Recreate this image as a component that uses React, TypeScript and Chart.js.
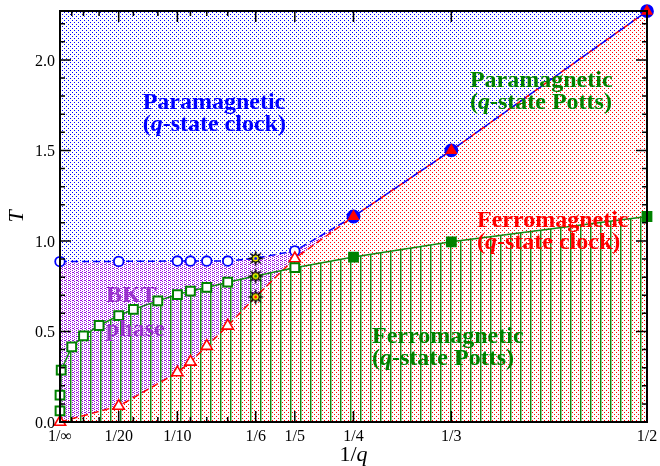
import React, { useEffect, useRef } from 'react';
import { Chart, registerables } from 'chart.js';

Chart.register(...registerables);

// Clock model: upper (T2) and lower (T1) transition temperatures vs 1/q
const clockInvQ = [0, 1 / 20, 1 / 10, 1 / 9, 1 / 8, 1 / 7, 1 / 6, 1 / 5, 1 / 4, 1 / 3, 1 / 2];
const clockUpperT = [0.886, 0.887, 0.889, 0.889, 0.889, 0.889, 0.904, 0.945, 1.135, 1.5, 2.269];
const clockLowerT = [0, 0.088, 0.273, 0.332, 0.419, 0.531, 0.691, 0.903, 1.135, 1.5, 2.269];

// Potts model: transition temperature vs 1/q
const pottsInvQ = [1e-14, 1e-6, 1 / 1000, 1 / 100, 1 / 50, 1 / 30, 1 / 20, 1 / 16, 1 / 12, 1 / 10, 1 / 9, 1 / 8, 1 / 7, 1 / 6, 1 / 5, 1 / 4, 1 / 3, 1 / 2];
const pottsT = [0.061, 0.148, 0.286, 0.415, 0.476, 0.533, 0.588, 0.622, 0.669, 0.704, 0.723, 0.743, 0.772, 0.806, 0.852, 0.911, 0.995, 1.135];

// q = 6 points are drawn as stars; q <= 4 values are exact (filled symbols)
const starInvQ = 1 / 6;
const exactFromInvQ = 1 / 4;

// Axis ticks
const xMajorTicks = [0, 1 / 20, 1 / 10, 1 / 6, 1 / 5, 1 / 4, 1 / 3, 1 / 2];
const xTickLabels = ['1/∞', '1/20', '1/10', '1/6', '1/5', '1/4', '1/3', '1/2'];
const xMinorTicks = [1 / 100, 1 / 50, 1 / 30, 1 / 16, 1 / 12, 1 / 9, 1 / 8, 1 / 7];
const yMajorTicks = [0, 0.5, 1.0, 1.5, 2.0];
const yTickLabels = ['0.0', '0.5', '1.0', '1.5', '2.0'];
const yMinorTicks = [0.1, 0.2, 0.3, 0.4, 0.6, 0.7, 0.8, 0.9, 1.1, 1.2, 1.3, 1.4, 1.6, 1.7, 1.8, 1.9, 2.1, 2.2];

type Seg = [string, boolean];
type PhaseLabel = { lines: Seg[][]; color: string; invQ: number; T: number; gap: number };

// Phase names, anchored (left, first baseline) in data coordinates
const phaseLabels: PhaseLabel[] = [
  { lines: [[['Paramagnetic', false]], [['(', false], ['q', true], ['-state clock)', false]]], color: '#0000ff', invQ: 0.0704, T: 1.726, gap: 22 },
  { lines: [[['Paramagnetic', false]], [['(', false], ['q', true], ['-state Potts)', false]]], color: '#008200', invQ: 0.3492, T: 1.848, gap: 22 },
  { lines: [[['Ferromagnetic', false]], [['(', false], ['q', true], ['-state clock)', false]]], color: '#ff0000', invQ: 0.3552, T: 1.079, gap: 22 },
  { lines: [[['Ferromagnetic', false]], [['(', false], ['q', true], ['-state Potts)', false]]], color: '#008200', invQ: 0.2658, T: 0.435, gap: 22 },
  { lines: [[['BKT', false]], [['phase', false]]], color: '#9932cc', invQ: 0.0392, T: 0.664, gap: 34 },
];

const SERIF = '"Liberation Serif", "Times New Roman", serif';

function pts(xs: number[], ys: number[]) {
  return xs.map((x, i) => ({ x, y: ys[i] }));
}

function makeTile(w: number, h: number, paint: (g: CanvasRenderingContext2D) => void) {
  const c = document.createElement('canvas');
  c.width = w;
  c.height = h;
  const g = c.getContext('2d')!;
  paint(g);
  return c;
}

function dotTile(color: string, w: number, h: number, dots: [number, number][]) {
  return makeTile(w, h, (g) => {
    g.fillStyle = '#ffffff';
    g.fillRect(0, 0, w, h);
    g.fillStyle = color;
    dots.forEach(([x, y]) => g.fillRect(x, y, 1, 1));
  });
}

function starSymbol(center: string) {
  const s = 19;
  return makeTile(s, s, (g) => {
    const c = s / 2;
    g.beginPath();
    for (let i = 0; i < 16; i++) {
      const r = i % 2 === 0 ? 8.5 : 3.6;
      const a = (i * Math.PI) / 8 - Math.PI / 2;
      const px = c + r * Math.cos(a);
      const py = c + r * Math.sin(a);
      if (i === 0) g.moveTo(px, py);
      else g.lineTo(px, py);
    }
    g.closePath();
    g.fillStyle = '#000000';
    g.fill();
    g.beginPath();
    g.arc(c, c, 3.6, 0, Math.PI * 2);
    g.fillStyle = '#ffff00';
    g.fill();
    g.lineWidth = 1;
    g.strokeStyle = '#000000';
    g.stroke();
    g.beginPath();
    g.arc(c, c, 1.5, 0, Math.PI * 2);
    g.fillStyle = center;
    g.fill();
  });
}

function drawSegs(ctx: CanvasRenderingContext2D, segs: Seg[], x: number, y: number, size: number, bold: boolean) {
  let cx = x;
  segs.forEach(([text, italic]) => {
    ctx.font = `${italic ? 'italic ' : ''}${bold ? 'bold ' : ''}${size}px ${SERIF}`;
    ctx.fillText(text, cx, y);
    cx += ctx.measureText(text).width;
  });
  return cx - x;
}

function segsWidth(ctx: CanvasRenderingContext2D, segs: Seg[], size: number, bold: boolean) {
  let w = 0;
  segs.forEach(([text, italic]) => {
    ctx.font = `${italic ? 'italic ' : ''}${bold ? 'bold ' : ''}${size}px ${SERIF}`;
    w += ctx.measureText(text).width;
  });
  return w;
}

const frameAndLabels = {
  id: 'frameAndLabels',
  afterDraw(chart: any) {
    const { ctx, chartArea } = chart;
    const xs = chart.scales.x;
    const ys = chart.scales.y;
    const { left, right, top, bottom } = chartArea;
    ctx.save();

    // phase names
    ctx.textAlign = 'left';
    ctx.textBaseline = 'alphabetic';
    phaseLabels.forEach((lab) => {
      ctx.fillStyle = lab.color;
      const x0 = xs.getPixelForValue(lab.invQ);
      const y0 = ys.getPixelForValue(lab.T);
      lab.lines.forEach((segs, i) => drawSegs(ctx, segs, x0, y0 + i * lab.gap, 24, true));
    });

    // frame
    ctx.strokeStyle = '#000000';
    ctx.lineWidth = 2;
    ctx.strokeRect(left, top, right - left, bottom - top);

    // inward ticks on all four sides
    ctx.lineWidth = 1.5;
    ctx.beginPath();
    const xTick = (v: number, len: number) => {
      const p = xs.getPixelForValue(v);
      ctx.moveTo(p, bottom);
      ctx.lineTo(p, bottom - len);
      ctx.moveTo(p, top);
      ctx.lineTo(p, top + len);
    };
    const yTick = (v: number, len: number) => {
      const p = ys.getPixelForValue(v);
      ctx.moveTo(left, p);
      ctx.lineTo(left + len, p);
      ctx.moveTo(right, p);
      ctx.lineTo(right - len, p);
    };
    xMajorTicks.forEach((v) => xTick(v, 11));
    xMinorTicks.forEach((v) => xTick(v, 5));
    yMajorTicks.forEach((v) => yTick(v, 11));
    yMinorTicks.forEach((v) => yTick(v, 5));
    ctx.stroke();

    // tick labels
    ctx.fillStyle = '#000000';
    ctx.font = `16px ${SERIF}`;
    ctx.textAlign = 'center';
    ctx.textBaseline = 'alphabetic';
    xMajorTicks.forEach((v, i) => ctx.fillText(xTickLabels[i], xs.getPixelForValue(v), bottom + 19));
    ctx.textAlign = 'right';
    yMajorTicks.forEach((v, i) => ctx.fillText(yTickLabels[i], left - 5, ys.getPixelForValue(v) + 6));

    // axis titles
    const xTitle: Seg[] = [['1/', false], ['q', true]];
    const w = segsWidth(ctx, xTitle, 22, false);
    ctx.textAlign = 'left';
    drawSegs(ctx, xTitle, (left + right) / 2 - w / 2, bottom + 39, 22, false);

    ctx.translate(17, (top + bottom) / 2);
    ctx.rotate(-Math.PI / 2);
    ctx.textAlign = 'center';
    ctx.textBaseline = 'middle';
    ctx.font = `italic 22px ${SERIF}`;
    ctx.fillText('T', 0, 0);
    ctx.restore();
  },
};

export default function App() {
  const ref = useRef<HTMLCanvasElement>(null);

  useEffect(() => {
    const canvas = ref.current!;
    const ctx = canvas.getContext('2d')!;

    const pat = (tile: HTMLCanvasElement) => ctx.createPattern(tile, 'repeat')!;
    const paraFill = pat(dotTile('#0000ff', 4, 4, [[0, 0], [2, 2]]));
    const bktFill = pat(dotTile('#9a10e0', 4, 4, [[0, 0], [2, 1], [0, 2], [2, 3], [1, 0]]));
    const ferroFill = pat(dotTile('#ff0000', 4, 4, [[0, 0], [2, 2]]));
    const pottsHatch = pat(
      makeTile(10, 2, (g) => {
        g.fillStyle = '#118811';
        g.fillRect(0, 0, 1, 2);
        g.fillStyle = 'rgba(17,136,17,0.45)';
        g.fillRect(1, 0, 1, 2);
      })
    );

    const starUpper = starSymbol('#0000ff');
    const starLower = starSymbol('#ff0000');
    const starPotts = starSymbol('#008200');

    const upper = pts(clockInvQ, clockUpperT);
    const lower = pts(clockInvQ, clockLowerT);
    const potts = pts(pottsInvQ, pottsT);

    const isStar = (xsArr: number[]) => (c: any) => xsArr[c.dataIndex] === starInvQ;
    const isExact = (xsArr: number[]) => (c: any) => xsArr[c.dataIndex] >= exactFromInvQ - 1e-9;

    const fillBase = { borderWidth: 0, pointRadius: 0, tension: 0 };
    const markerBase = { showLine: false, borderWidth: 0, clip: false };

    const chart = new Chart(canvas, {
      type: 'line',
      data: {
        datasets: [
          // 0: paramagnetic (above upper clock line)
          { ...fillBase, data: upper, fill: 'end', backgroundColor: paraFill, order: 100 },
          // 1: BKT phase (between the two clock lines)
          { ...fillBase, data: upper, fill: 2, backgroundColor: bktFill, order: 99 },
          // 2: clock ferromagnetic (below lower clock line)
          { ...fillBase, data: lower, fill: 'origin', backgroundColor: ferroFill, order: 98 },
          // 3: Potts ferromagnetic (below Potts line)
          { ...fillBase, data: potts, fill: 'origin', backgroundColor: pottsHatch, order: 97 },
          // transition lines
          { data: lower, fill: false, borderColor: '#ff0000', borderWidth: 1.5, borderDash: [7, 4], pointRadius: 0, order: 50 },
          { data: upper, fill: false, borderColor: '#0000ff', borderWidth: 1.5, borderDash: [7, 4], pointRadius: 0, order: 49 },
          { data: potts, fill: false, borderColor: '#118811', borderWidth: 1.5, pointRadius: 0, order: 48 },
          // symbols
          {
            ...markerBase,
            data: upper,
            order: 20,
            pointStyle: (c: any) => (isStar(clockInvQ)(c) ? starUpper : 'circle'),
            pointRadius: (c: any) => (isExact(clockInvQ)(c) ? 6 : 4.8),
            pointBackgroundColor: (c: any) => (isExact(clockInvQ)(c) ? '#0000ff' : '#ffffff'),
            pointBorderColor: '#0000ff',
            pointBorderWidth: 1.8,
          },
          {
            ...markerBase,
            data: lower,
            order: 19,
            pointStyle: (c: any) => (isStar(clockInvQ)(c) ? starLower : 'triangle'),
            pointRadius: (c: any) => (isExact(clockInvQ)(c) ? 5.4 : 6.5),
            pointBackgroundColor: (c: any) => (isExact(clockInvQ)(c) ? '#ff0000' : '#ffffff'),
            pointBorderColor: '#ff0000',
            pointBorderWidth: 1.6,
          },
          {
            ...markerBase,
            data: potts,
            order: 18,
            pointStyle: (c: any) => (isStar(pottsInvQ)(c) ? starPotts : 'rect'),
            pointRadius: 6.2,
            pointBackgroundColor: (c: any) => (isExact(pottsInvQ)(c) ? '#008200' : '#ffffff'),
            pointBorderColor: '#008200',
            pointBorderWidth: 2,
          },
        ] as any,
      },
      options: {
        responsive: false,
        devicePixelRatio: 1,
        animation: false,
        layout: { padding: { left: 0, right: 13, top: 11, bottom: 0 } },
        elements: { line: { tension: 0 } },
        plugins: {
          legend: { display: false },
          tooltip: { enabled: false },
          filler: { drawTime: 'beforeDatasetsDraw', propagate: false },
        },
        scales: {
          x: {
            type: 'linear',
            min: 0,
            max: 0.5,
            grid: { display: false, drawTicks: false },
            border: { display: false },
            ticks: { display: false },
            afterFit: (s: any) => {
              s.height = 44;
            },
          },
          y: {
            type: 'linear',
            min: 0,
            max: 2.27,
            grid: { display: false, drawTicks: false },
            border: { display: false },
            ticks: { display: false },
            afterFit: (s: any) => {
              s.width = 60;
            },
          },
        },
      } as any,
      plugins: [frameAndLabels],
    });

    return () => chart.destroy();
  }, []);

  return (
    <div style={{ position: 'fixed', left: 0, top: 0, width: 660, height: 466, background: '#ffffff' }}>
      <canvas ref={ref} width={660} height={466} style={{ display: 'block' }} />
    </div>
  );
}
